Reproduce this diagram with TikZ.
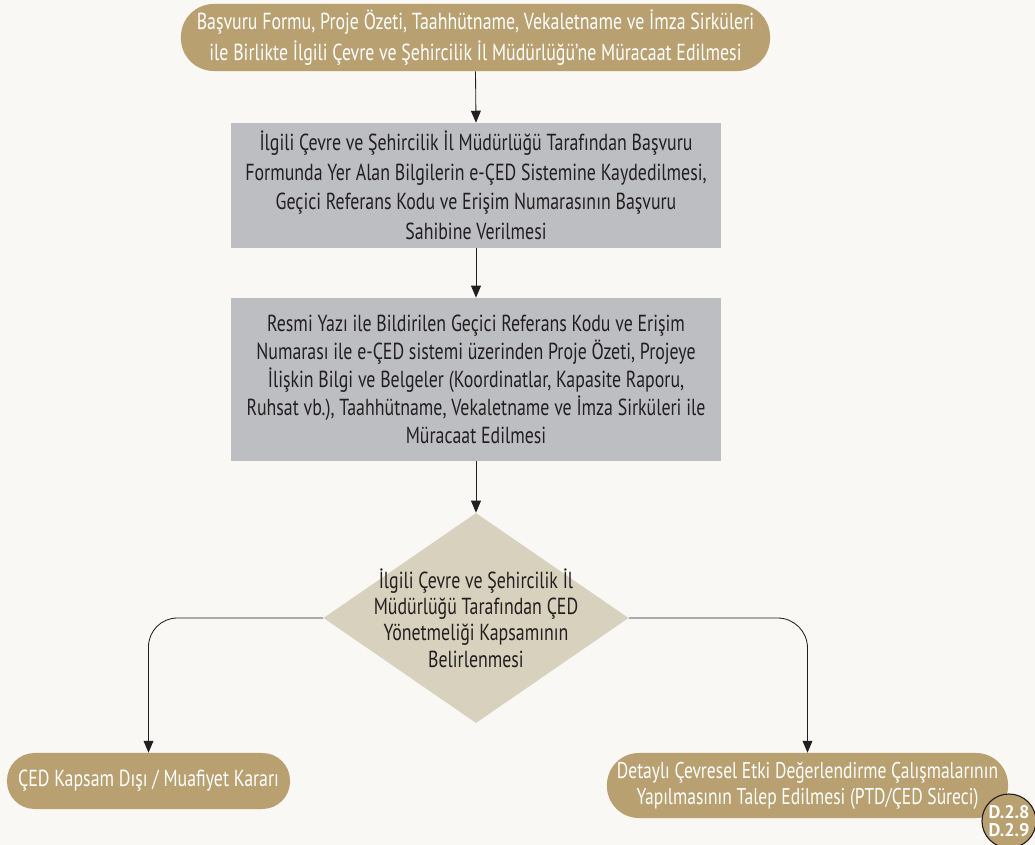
\documentclass[tikz,border=0pt]{standalone}
\usepackage{fontspec}
\setmainfont{PT Sans}[FakeStretch=0.77]
\newfontfamily\badgefont{PT Sans}
\usepackage{tikz}
\usetikzlibrary{shapes.geometric, arrows.meta, positioning}
\definecolor{PaperWhite}{HTML}{F9F8F5}
\definecolor{SandBrown}{HTML}{B8A070}
\definecolor{SlateGrey}{HTML}{BDBEC1}
\definecolor{StoneBeige}{HTML}{D8D1BD}
\definecolor{InkBlack}{HTML}{231F20}
\tikzset{
  pillbox/.style={rectangle, fill=SandBrown, text=white, font=\fontsize{16.5}{21.5}\selectfont, align=center, inner sep=0pt},
  stepbox/.style={rectangle, fill=SlateGrey, text=InkBlack, minimum width=12.25cm, font=\fontsize{16.5}{21}\selectfont, align=center, inner sep=0pt},
  decision/.style={diamond, fill=StoneBeige, minimum width=7.625cm, minimum height=5.25cm, inner sep=0pt},
  decisiontext/.style={text=InkBlack, font=\fontsize{16.5}{18.7}\selectfont, align=center, inner sep=0pt},
  badge/.style={circle, draw=InkBlack, line width=0.8pt, fill=SandBrown, text=white, minimum size=1.35cm, inner sep=0pt, font=\badgefont\fontsize{13}{13}\selectfont\bfseries, align=center},
  flowarrow/.style={-{Triangle[width=7pt,length=8.5pt]}, line width=0.6pt, InkBlack}
}
\begin{document}
\begin{tikzpicture}[x=0.025cm, y=-0.025cm]
  \fill[PaperWhite] (0,0) rectangle (1035,845);
  \useasboundingbox (0,0) rectangle (1035,845);

  \node[pillbox, minimum width=14.725cm, minimum height=1.675cm, rounded corners=0.82cm] (apply) at (475.5,37.5)
    {Başvuru Formu, Proje Özeti, Taahhütname, Vekaletname ve İmza Sirküleri\\
     ile Birlikte İlgili Çevre ve Şehircilik İl Müdürlüğü’ne Müracaat Edilmesi};
  \node[stepbox, minimum height=3.125cm] (register) at (476,185.5)
    {İlgili Çevre ve Şehircilik İl Müdürlüğü Tarafından Başvuru\\
     Formunda Yer Alan Bilgilerin e-ÇED Sistemine Kaydedilmesi,\\
     Geçici Referans Kodu ve Erişim Numarasının Başvuru\\
     Sahibine Verilmesi};
  \node[stepbox, minimum height=4.075cm, font=\fontsize{16.5}{19.8}\selectfont] (submit) at (476,379.5)
    {Resmi Yazı ile Bildirilen Geçici Referans Kodu ve Erişim\\
     Numarası ile e-ÇED sistemi üzerinden Proje Özeti, Projeye\\
     İlişkin Bilgi ve Belgeler (Koordinatlar, Kapasite Raporu,\\
     Ruhsat vb.), Taahhütname, Vekaletname ve İmza Sirküleri ile\\
     Müracaat Edilmesi};
  \node[decision] (scope) at (476,618) {};
  \node[decisiontext] (scopetext) at (scope.center)
    {İlgili Çevre ve Şehircilik İl\\
     Müdürlüğü Tarafından ÇED\\
     Yönetmeliği Kapsamının\\
     Belirlenmesi};
  \node[pillbox, minimum width=7.075cm, minimum height=1.4cm, rounded corners=0.69cm] (exempt) at (148.5,781)
    {ÇED Kapsam Dışı / Muafiyet Kararı};
  \node[pillbox, minimum width=10.025cm, minimum height=1.625cm, rounded corners=0.8cm, font=\fontsize{16.2}{18.7}\selectfont] (detailed) at (807.5,785.5)
    {Detaylı Çevresel Etki Değerlendirme Çalışmalarının\\
     Yapılmasının Talep Edilmesi (PTD/ÇED Süreci)};
  \node[badge] (ref) at (1009,821) {D.2.8\\D.2.9};

  \draw[flowarrow] (apply.south) -- (register.north);
  \draw[flowarrow] (register) -- (submit);
  \draw[flowarrow] (submit) -- (scope.north);
  \draw[flowarrow, rounded corners=0.72cm] (scope.west) -| (exempt.north);
  \draw[flowarrow, rounded corners=0.75cm] (scope.east) -| (detailed.north);
\end{tikzpicture}
\end{document}
